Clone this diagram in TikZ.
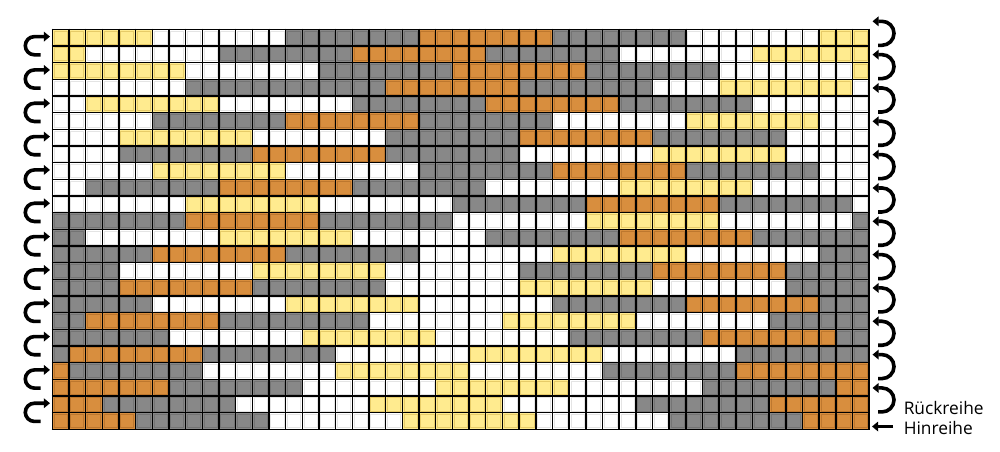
\documentclass[tikz,border=0pt]{standalone}
\usepackage{fontspec}
\newfontfamily\labfont{Open Sans}
\usetikzlibrary{arrows.meta}
\definecolor{cY}{HTML}{FFEB8F}
\definecolor{cW}{HTML}{FFFFFF}
\definecolor{cG}{HTML}{888888}
\definecolor{cO}{HTML}{D88E3E}
\definecolor{eY}{HTML}{E6CB68}
\definecolor{eW}{HTML}{E4E4E4}
\definecolor{eG}{HTML}{747474}
\definecolor{eO}{HTML}{BD772E}
\tikzset{
  turnarrow/.style={line width=2.7pt, -{Triangle[length=4.6pt,width=7.2pt]}},
  gridline/.style={line width=1.15pt, black},
  rowlabel/.style={font=\labfont\fontsize{13pt}{14pt}\selectfont, anchor=west, inner sep=0pt}
}
\begin{document}
\begin{tikzpicture}[x=0.75pt,y=-0.75pt]
\useasboundingbox (0,0) rectangle (1000,451);
\fill[white] (0,0) rectangle (1000,451);
\def\gx{52.3}
\def\gy{29.3}
\def\cs{16.67}
\foreach \r/\runs in {
0/{Y/0/5,W/6/13,G/14/21,O/22/29,G/30/37,W/38/45,Y/46/48},
1/{Y/0/1,W/2/9,G/10/17,O/18/25,G/26/33,W/34/41,Y/42/48},
2/{Y/0/7,W/8/15,G/16/23,O/24/31,G/32/39,W/40/47,Y/48/48},
3/{W/0/7,G/8/19,O/20/27,G/28/35,W/36/39,Y/40/47,W/48/48},
4/{W/0/1,Y/2/9,W/10/17,G/18/25,O/26/33,G/34/41,W/42/48},
5/{W/0/5,G/6/13,O/14/21,G/22/29,W/30/37,Y/38/45,W/46/48},
6/{W/0/3,Y/4/11,W/12/19,G/20/27,O/28/35,G/36/43,W/44/48},
7/{W/0/3,G/4/11,O/12/19,G/20/27,W/28/35,Y/36/43,W/44/48},
8/{W/0/5,Y/6/13,W/14/21,G/22/29,O/30/37,G/38/45,W/46/48},
9/{W/0/1,G/2/9,O/10/17,G/18/25,W/26/33,Y/34/41,W/42/48},
10/{W/0/7,Y/8/15,W/16/23,G/24/31,O/32/39,G/40/47,W/48/48},
11/{G/0/7,O/8/15,G/16/23,W/24/31,Y/32/39,W/40/47,G/48/48},
12/{G/0/1,W/2/9,Y/10/17,W/18/25,G/26/33,O/34/41,G/42/48},
13/{G/0/5,O/6/13,G/14/21,W/22/29,Y/30/37,W/38/45,G/46/48},
14/{G/0/3,W/4/11,Y/12/19,W/20/27,G/28/35,O/36/43,G/44/48},
15/{G/0/3,O/4/11,G/12/19,W/20/27,Y/28/35,W/36/43,G/44/48},
16/{G/0/5,W/6/13,Y/14/21,W/22/29,G/30/37,O/38/45,G/46/48},
17/{G/0/1,O/2/9,G/10/18,W/19/26,Y/27/34,W/35/42,G/43/48},
18/{G/0/6,W/7/14,Y/15/22,W/23/30,G/31/38,O/39/46,G/47/48},
19/{G/0/0,O/1/8,G/9/16,W/17/24,Y/25/32,W/33/40,G/41/48},
20/{O/0/0,G/1/8,W/9/16,Y/17/24,W/25/32,G/33/40,O/41/48},
21/{O/0/6,G/7/14,W/15/22,Y/23/30,W/31/38,G/39/46,O/47/48},
22/{O/0/2,G/3/10,W/11/18,Y/19/26,W/27/34,G/35/42,O/43/48},
23/{O/0/4,G/5/12,W/13/20,Y/21/28,W/29/36,G/37/44,O/45/48}}
{
  \foreach \c/\a/\b in \runs {
    \fill[c\c] ({\gx+\cs*\a},{\gy+\cs*\r}) rectangle ({\gx+\cs*(\b+1)},{\gy+\cs*(\r+1)});
    \foreach \i in {\a,...,\b} {
      \draw[e\c, line width=0.55pt] ({\gx+\cs*\i+1.8},{\gy+\cs*\r+1.8}) rectangle ({\gx+\cs*(\i+1)-1.8},{\gy+\cs*(\r+1)-1.8});
    }
  }
}
\foreach \i in {0,...,49} {
  \draw[gridline] ({\gx+\cs*\i},{\gy-0.6}) -- ({\gx+\cs*\i},{\gy+\cs*24+0.6});
}
\foreach \j in {0,...,24} {
  \draw[gridline] ({\gx-0.6},{\gy+\cs*\j}) -- ({\gx+\cs*49+0.6},{\gy+\cs*\j});
}
% left turn arrows
\foreach \k in {0,...,11} {
  \pgfmathsetmacro{\yt}{36.6+33.33*\k}
  \pgfmathsetmacro{\yb}{\yt+18.2}
  \draw[turnarrow] (40.5,\yb) -- (34.4,\yb) arc[start angle=90,end angle=270,radius=9.1] -- (50,\yt);
}
% right turn arrows
\foreach \k in {0,...,11} {
  \pgfmathsetmacro{\yt}{21.3+33.33*\k}
  \pgfmathsetmacro{\yb}{\yt+24}
  \draw[turnarrow] (878,\yb) -- (882,\yb) arc[start angle=90,end angle=-90,radius=12] -- (872.5,\yt);
}
\coordinate (hinstart) at (893,426.5);
\coordinate (hinend) at (872,426.5);
\draw[turnarrow] (hinstart) -- (hinend);
\node[rowlabel] (rueck) at (903.5,408) {Rückreihe};
\node[rowlabel] (hin) at (903.5,428) {Hinreihe};
\end{tikzpicture}
\end{document}
